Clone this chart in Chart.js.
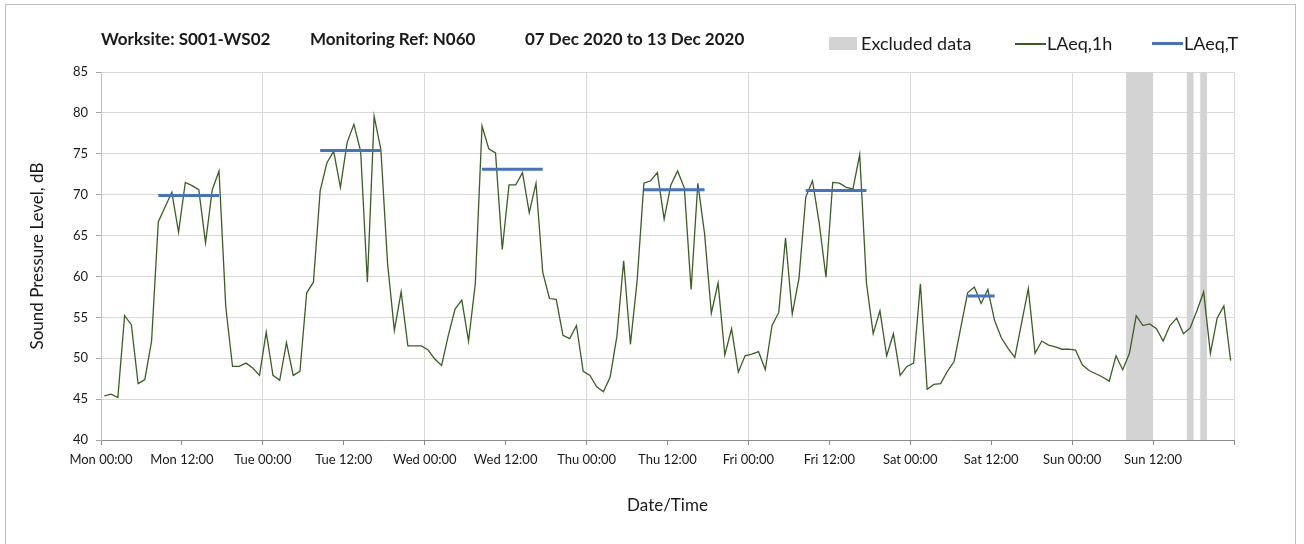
<!DOCTYPE html>
<html>
<head>
<meta charset="utf-8">
<script src="https://cdn.jsdelivr.net/npm/chart.js@4"></script>
<style>
  html, body { margin: 0; padding: 0; background: #fff; }
  #wrap { position: relative; width: 1304px; height: 544px; overflow: hidden; font-family: Lato, "Open Sans", sans-serif; color: #1a1a1a; }
  #frame { position: absolute; left: 5px; top: 4px; width: 1291px; height: 560px; border: 1px solid #bfbfbf; box-sizing: border-box; }
  canvas { position: absolute; left: 0; top: 0; }
  .hdr { position: absolute; top: 28px; font-weight: bold; font-size: 17px; white-space: nowrap; }
  .leg { position: absolute; top: 32px; font-size: 18px; white-space: nowrap; }
  .sw { position: absolute; }
</style>
</head>
<body>
<div id="wrap">
  <div id="frame"></div>
  <canvas id="c" width="1304" height="544"></canvas>
  <div class="hdr" style="left:101px">Worksite: S001-WS02</div>
  <div class="hdr" style="left:310px">Monitoring Ref: N060</div>
  <div class="hdr" style="left:525px">07 Dec 2020 to 13 Dec 2020</div>
  <div class="sw" style="left:829px;top:37px;width:28px;height:13px;background:#d3d3d3"></div>
  <div class="leg" style="left:861px">Excluded data</div>
  <div class="sw" style="left:1015px;top:43px;width:31px;height:1.5px;background:#3b5e23"></div>
  <div class="leg" style="left:1047px">LAeq,1h</div>
  <div class="sw" style="left:1152px;top:42px;width:31px;height:3px;background:#4472c4"></div>
  <div class="leg" style="left:1184px">LAeq,T</div>
</div>
<script>
// Hourly LAeq,1h levels (dB), Mon 00:00 through Sun 23:00
const laeq1h = [
  45.4, 45.6, 45.2, 55.2, 54.1, 46.9, 47.4, 52.1, 66.7, 68.5, 70.3, 65.4, 71.5, 71.1, 70.6, 64.1, 70.6, 72.9, 56.3, 49.0, 49.0, 49.4, 48.8, 47.9,
  53.2, 47.9, 47.3, 51.9, 47.9, 48.4, 58.0, 59.3, 70.5, 73.9, 75.3, 70.9, 76.4, 78.6, 75.3, 59.3, 79.6, 75.5, 61.5, 53.4, 58.1, 51.5, 51.5, 51.5,
  51.0, 49.9, 49.1, 52.8, 56.0, 57.1, 52.1, 59.1, 78.4, 75.6, 75.1, 63.3, 71.2, 71.2, 72.7, 67.8, 71.4, 60.5, 57.3, 57.2, 52.8, 52.4, 54.0, 48.4,
  47.9, 46.5, 45.9, 47.7, 52.7, 61.9, 51.7, 59.5, 71.4, 71.7, 72.7, 67.0, 71.2, 72.9, 70.8, 58.4, 71.4, 65.2, 55.5, 59.2, 50.4, 53.6, 48.3, 50.3,
  50.5, 50.8, 48.6, 54.0, 55.6, 64.7, 55.4, 59.8, 69.7, 71.7, 66.5, 59.9, 71.5, 71.4, 70.9, 70.7, 74.9, 59.2, 53.0, 55.8, 50.3, 53.0, 47.9, 49.0,
  49.4, 59.1, 46.2, 46.8, 46.9, 48.4, 49.6, 53.8, 58.0, 58.7, 56.7, 58.4, 54.6, 52.5, 51.2, 50.1, 54.3, 58.5, 50.6, 52.1, 51.6, 51.4, 51.1, 51.1,
  51.0, 49.2, 48.5, 48.1, 47.7, 47.2, 50.3, 48.6, 50.6, 55.2, 54.0, 54.2, 53.6, 52.1, 54.0, 54.9, 53.0, 53.7, 55.8, 58.1, 50.6, 54.9, 56.4, 49.7
];

// LAeq,T assessment periods: first and last hour of each, and the period level (dB)
const periodFirstHour = [8, 32, 56, 80, 104, 128];
const periodLastHour  = [17, 41, 65, 89, 113, 132];
const periodLevel     = [69.9, 75.4, 73.1, 70.6, 70.5, 57.6];

// Excluded data windows (hours from Mon 00:00)
const excludedFrom = [152, 161, 163];
const excludedTo   = [156, 162, 164];

// X axis tick labels every 12 hours
const tickLabels = [
  'Mon 00:00', 'Mon 12:00', 'Tue 00:00', 'Tue 12:00', 'Wed 00:00', 'Wed 12:00', 'Thu 00:00',
  'Thu 12:00', 'Fri 00:00', 'Fri 12:00', 'Sat 00:00', 'Sat 12:00', 'Sun 00:00', 'Sun 12:00', ''
];

// each hourly value is plotted at the middle of its hour
const hourlyPoints = laeq1h.map((v, i) => ({ x: i + 0.5, y: v }));
const periodPoints = [];
periodLevel.forEach((lvl, i) => {
  periodPoints.push({ x: periodFirstHour[i] + 0.5, y: lvl });
  periodPoints.push({ x: periodLastHour[i] + 0.5, y: lvl });
  periodPoints.push({ x: periodLastHour[i] + 1, y: null });
});

const excludedBands = {
  id: 'excludedBands',
  beforeDatasetsDraw(chart) {
    const { ctx, chartArea, scales: { x } } = chart;
    ctx.save();
    ctx.fillStyle = '#d3d3d3';
    excludedFrom.forEach((from, i) => {
      const x0 = x.getPixelForValue(from);
      const x1 = x.getPixelForValue(excludedTo[i]);
      ctx.fillRect(x0, chartArea.top, x1 - x0, chartArea.bottom - chartArea.top);
    });
    ctx.restore();
  }
};

const fontFamily = 'Lato, "Open Sans", sans-serif';

new Chart(document.getElementById('c'), {
  type: 'line',
  data: {
    datasets: [
      {
        label: 'LAeq,T',
        data: periodPoints,
        borderColor: '#4472c4',
        borderWidth: 3,
        pointRadius: 0,
        spanGaps: false,
        tension: 0
      },
      {
        label: 'LAeq,1h',
        data: hourlyPoints,
        borderColor: '#3b5e23',
        borderWidth: 1.3,
        pointRadius: 0,
        tension: 0
      }
    ]
  },
  options: {
    responsive: false,
    animation: false,
    devicePixelRatio: 1,
    layout: { padding: { left: 27, right: 70, top: 72, bottom: 28 } },
    plugins: { legend: { display: false }, tooltip: { enabled: false } },
    scales: {
      x: {
        type: 'linear',
        min: 0,
        max: 168,
        afterFit(scale) { scale.height = 76; },
        afterBuildTicks(scale) {
          scale.ticks = tickLabels.map((_, i) => ({ value: i * 12 }));
        },
        ticks: {
          autoSkip: false,
          maxRotation: 0,
          padding: 7,
          color: '#1a1a1a',
          font: { family: fontFamily, size: 13 },
          callback: (v) => tickLabels[Math.round(v / 12)]
        },
        grid: {
          color: (c) => (c.tick && c.tick.value % 24 === 0 ? '#d9d9d9' : 'rgba(0,0,0,0)'),
          tickColor: '#8c8c8c',
          tickLength: 5,
          drawTicks: true
        },
        border: { color: '#8c8c8c', width: 1 },
        title: {
          display: true,
          text: 'Date/Time',
          color: '#1a1a1a',
          font: { family: fontFamily, size: 17 },
          padding: 0
        }
      },
      y: {
        min: 40,
        max: 85,
        afterFit(scale) { scale.width = 74; },
        ticks: {
          stepSize: 5,
          padding: 8,
          color: '#1a1a1a',
          font: { family: fontFamily, size: 13 }
        },
        grid: {
          color: '#d9d9d9',
          tickColor: '#a6a6a6',
          tickLength: 5
        },
        border: { color: '#bfbfbf', width: 1 },
        title: {
          display: true,
          text: 'Sound Pressure Level, dB',
          color: '#1a1a1a',
          font: { family: fontFamily, size: 17 },
          padding: 0
        }
      }
    }
  },
  plugins: [excludedBands]
});
</script>
</body>
</html>
